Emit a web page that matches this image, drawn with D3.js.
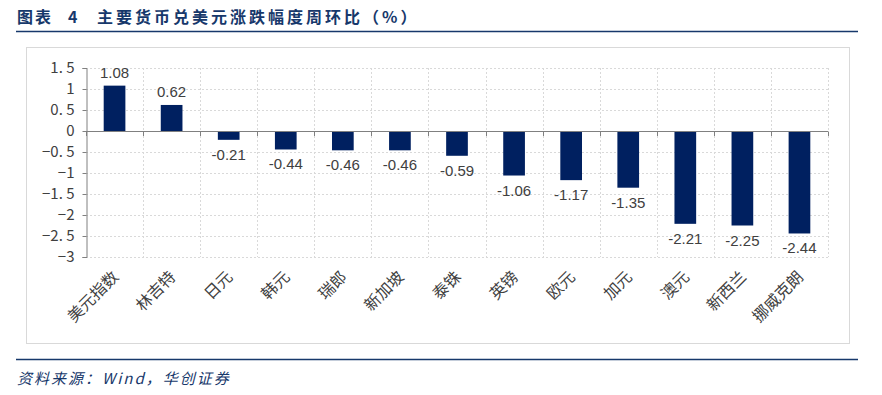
<!DOCTYPE html>
<html>
<head>
<meta charset="utf-8">
<script src="https://cdn.jsdelivr.net/npm/d3@7"></script>
<style>
  body { margin: 0; background: #fff; }
  svg { display: block; }
</style>
</head>
<body>
<script>
  const categories = ["美元指数", "林吉特", "日元", "韩元", "瑞郎", "新加坡", "泰铢", "英镑", "欧元", "加元", "澳元", "新西兰", "挪威克朗"];
  const values = [1.08, 0.62, -0.21, -0.44, -0.46, -0.46, -0.59, -1.06, -1.17, -1.35, -2.21, -2.25, -2.44];
  const yTicks = [1.5, 1, 0.5, 0, -0.5, -1, -1.5, -2, -2.5, -3];

  const W = 882, H = 395;
  const navy = "#17386b";
  const cjk = "'Noto Sans CJK SC', 'Noto Sans', sans-serif";

  const svg = d3.select("body").append("svg")
    .attr("width", W)
    .attr("height", H);

  // title + rules
  svg.append("text")
    .attr("x", 17).attr("y", 23)
    .style("font-family", cjk)
    .style("font-weight", "bold")
    .style("font-size", "16px")
    .style("letter-spacing", "2px")
    .style("fill", navy)
    .text("图表");
  svg.append("text")
    .attr("x", 68).attr("y", 23)
    .style("font-family", cjk)
    .style("font-weight", "bold")
    .style("font-size", "16px")
    .style("fill", navy)
    .text("4");
  svg.append("text")
    .attr("x", 97).attr("y", 23)
    .style("font-family", cjk)
    .style("font-weight", "bold")
    .style("font-size", "16px")
    .style("letter-spacing", "3px")
    .style("fill", navy)
    .text("主要货币兑美元涨跌幅度周环比（%）");

  svg.append("line")
    .attr("x1", 16).attr("x2", 858).attr("y1", 31.5).attr("y2", 31.5)
    .style("stroke", navy).style("stroke-width", 1.5);
  svg.append("line")
    .attr("x1", 16).attr("x2", 858).attr("y1", 359.5).attr("y2", 359.5)
    .style("stroke", navy).style("stroke-width", 1.5);

  svg.append("text")
    .attr("x", 17).attr("y", 384)
    .style("font-family", cjk)
    .style("font-style", "italic")
    .style("font-size", "15px")
    .style("letter-spacing", "2px")
    .style("fill", navy)
    .text("资料来源：Wind，华创证券");

  // chart frame
  svg.append("rect")
    .attr("x", 26.5).attr("y", 47.5)
    .attr("width", 823).attr("height", 296)
    .style("fill", "none")
    .style("stroke", "#d9d9d9");

  const plot = { left: 86, right: 828, top: 68, bottom: 257 };

  const x = d3.scaleBand()
    .domain(categories)
    .range([plot.left, plot.right])
    .paddingInner(0.62)
    .paddingOuter(0.31);

  const xEdge = d3.scaleLinear()
    .domain([0, categories.length])
    .range([plot.left, plot.right]);

  const y = d3.scaleLinear()
    .domain([-3, 1.5])
    .range([plot.bottom, plot.top]);

  const g = svg.append("g");

  // horizontal grid
  g.selectAll(".hgrid")
    .data(yTicks.filter(d => d !== 0))
    .enter()
    .append("line")
    .attr("x1", plot.left).attr("x2", plot.right)
    .attr("y1", d => Math.round(y(d)) + 0.5)
    .attr("y2", d => Math.round(y(d)) + 0.5)
    .style("stroke", "#d9d9d9")
    .style("stroke-dasharray", "2,2");

  // vertical grid
  g.selectAll(".vgrid")
    .data(d3.range(1, categories.length + 1))
    .enter()
    .append("line")
    .attr("x1", d => Math.round(xEdge(d)) + 0.5)
    .attr("x2", d => Math.round(xEdge(d)) + 0.5)
    .attr("y1", plot.top).attr("y2", plot.bottom)
    .style("stroke", "#d9d9d9")
    .style("stroke-dasharray", "2,2");

  // y axis
  const yAxis = g.append("g")
    .attr("transform", "translate(" + (plot.left + 0.5) + ",0)")
    .call(d3.axisLeft(y).tickValues(yTicks).tickSize(4).tickPadding(8)
      .tickFormat(d => d3.format("")(d).replace("-", "−").replace(".", ". ")));
  yAxis.select(".domain").style("stroke", "#808080");
  yAxis.selectAll(".tick line").style("stroke", "#808080");
  yAxis.selectAll(".tick text")
    .style("font-family", "'Noto Sans CJK SC', sans-serif")
    .style("font-size", "15px")
    .style("fill", "#404040");

  // bars
  g.selectAll(".bar")
    .data(values)
    .enter()
    .append("rect")
    .attr("x", (d, i) => x(categories[i]))
    .attr("width", x.bandwidth())
    .attr("y", d => y(Math.max(0, d)))
    .attr("height", d => Math.abs(y(d) - y(0)))
    .style("fill", "#002060");

  // zero line with ticks
  g.append("line")
    .attr("x1", plot.left).attr("x2", plot.right)
    .attr("y1", Math.round(y(0)) + 0.5).attr("y2", Math.round(y(0)) + 0.5)
    .style("stroke", "#808080");
  g.selectAll(".ztick")
    .data(d3.range(0, categories.length + 1))
    .enter()
    .append("line")
    .attr("x1", d => Math.round(xEdge(d)) + 0.5)
    .attr("x2", d => Math.round(xEdge(d)) + 0.5)
    .attr("y1", Math.round(y(0)) + 0.5)
    .attr("y2", Math.round(y(0)) + 5)
    .style("stroke", "#808080");

  // value labels
  g.selectAll(".val")
    .data(values)
    .enter()
    .append("text")
    .attr("x", (d, i) => x(categories[i]) + x.bandwidth() / 2)
    .attr("y", d => d >= 0 ? y(d) - 8 : y(d) + 20)
    .attr("text-anchor", "middle")
    .style("font-family", "'Liberation Sans', 'Noto Sans', sans-serif")
    .style("font-size", "15px")
    .style("fill", "#404040")
    .text(d => d.toFixed(2));

  // category labels
  g.selectAll(".cat")
    .data(categories)
    .enter()
    .append("text")
    .attr("transform", d => "translate(" + (x(d) + x.bandwidth() / 2 + 1) + "," + (plot.bottom + 17) + ") rotate(-45)")
    .attr("text-anchor", "end")
    .attr("dy", "0.35em")
    .style("font-family", cjk)
    .style("font-size", "16px")
    .style("fill", "#404040")
    .text(d => d);
</script>
</body>
</html>
